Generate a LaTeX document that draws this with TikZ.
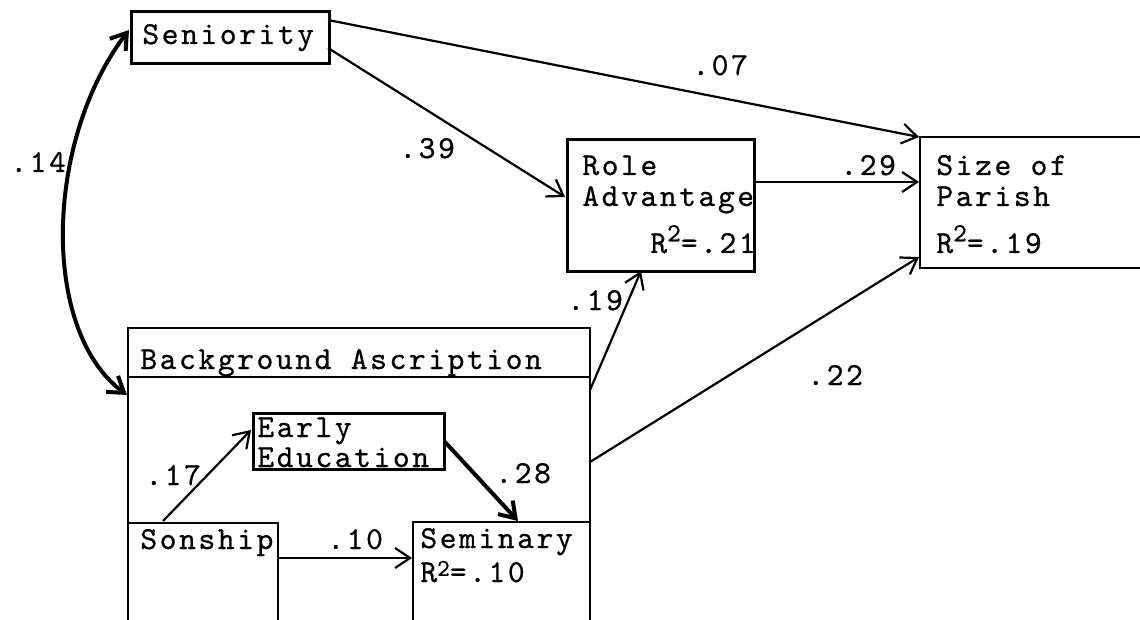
\documentclass[tikz,border=0pt]{standalone}
\usepackage{fontspec}
\newfontfamily\tw[LetterSpace=8,FakeBold=0.6]{lmmono10-regular.otf}
\usetikzlibrary{arrows.meta}
\begin{document}
\begin{tikzpicture}[x=0.5pt,y=-0.5pt,
  txt/.style={font=\tw\fontsize{16}{19}\selectfont, inner sep=0pt, anchor=base west},
  box/.style={draw, line width=1.3pt, inner sep=0pt, anchor=north west},
  frame/.style={line width=1.3pt},
  arr/.style={line width=1.1pt, -{Straight Barb[length=7.5pt,width=10pt]}},
  tarr/.style={line width=2pt, -{Straight Barb[length=7.5pt,width=10pt]}},
  dtarr/.style={line width=2pt, {Straight Barb[length=7.5pt,width=10pt]}-{Straight Barb[length=7.5pt,width=10pt]}}]
\newcommand{\sqr}{\raisebox{0.85ex}{\fontsize{13}{13}\selectfont 2}}
\newcommand{\sqrlow}{\raisebox{0.45ex}{\fontsize{12}{12}\selectfont 2}}
\useasboundingbox (0,0) rectangle (1140,620);
\fill[white] (0,0) rectangle (1140,620);

% closed boxes
\node[box, minimum width=99pt, minimum height=26pt] (sen) at (130,10) {};
\node[box, minimum width=93.5pt, minimum height=66pt] (role) at (566,138) {};
\node[box, minimum width=95.5pt, minimum height=28pt] (early) at (252,412) {};

% open boxes
\draw[frame] (1140,137) -- (920,137) -- (920,268) -- (1140,268);
\draw[frame] (128,620) -- (128,328) -- (590,328) -- (590,620);
\draw[frame] (128,377) -- (590,377);
\draw[frame] (128,523) -- (278,523) -- (278,620);
\draw[frame] (413,620) -- (413,522) -- (590,522);

% texts
\node[txt] (tsen) at (142,44) {Seniority};
\node[txt] (trole1) at (582,175) {Role};
\node[txt] (trole2) at (582,206) {Advantage};
\node[txt] (trole3) at (650,253) {R\sqr=.21};
\node[txt] (tsize1) at (936,175) {Size of};
\node[txt] (tsize2) at (936,206) {Parish};
\node[txt] (tsize3) at (936,253) {R\sqr=.19};
\node[txt] (tbg) at (140,369) {Background Ascription};
\node[txt] (tear1) at (257,437) {Early};
\node[txt] (tear2) at (257,467) {Education};
\node[txt] (tson) at (140,549) {Sonship};
\node[txt] (tsem1) at (420,548) {Seminary};
\node[txt] (tsem2) at (420,582) {R\sqrlow=.10};

% connector end points
\coordinate (senA) at (328,20);
\coordinate (senB) at (328,48);
\coordinate (senL) at (129,30);
\coordinate (sizeA) at (919,137);
\coordinate (sizeB) at (919,182);
\coordinate (sizeC) at (919,257);
\coordinate (roleL) at (565,197);
\coordinate (roleR) at (753,182);
\coordinate (roleB) at (641,271);
\coordinate (bgL) at (127,395);
\coordinate (bgR1) at (590,390);
\coordinate (bgR2) at (590,462);
\coordinate (sonT) at (163,521);
\coordinate (sonR) at (278,558);
\coordinate (earL) at (251,430);
\coordinate (earR) at (445,442);
\coordinate (semT) at (518,521);
\coordinate (semL) at (412,558);

% connectors
\draw[dtarr] (bgL) .. controls (40,330) and (45,140) .. (senL);
\draw[arr] (senA) -- (sizeA);
\draw[arr] (senB) -- (roleL);
\draw[arr] (roleR) -- (sizeB);
\draw[arr] (bgR1) -- (roleB);
\draw[arr] (bgR2) -- (sizeC);
\draw[arr] (sonT) -- (earL);
\draw[tarr] (earR) -- (semT);
\draw[arr] (sonR) -- (semL);

% labels
\node[txt] (l14) at (10,172) {.14};
\node[txt] (l07) at (692,75) {.07};
\node[txt] (l39) at (399,158) {.39};
\node[txt] (l29) at (840,175) {.29};
\node[txt] (l19) at (567,310) {.19};
\node[txt] (l22) at (807,385) {.22};
\node[txt] (l17) at (145,485) {.17};
\node[txt] (l28) at (495,483) {.28};
\node[txt] (l10) at (327,549) {.10};
\end{tikzpicture}
\end{document}
